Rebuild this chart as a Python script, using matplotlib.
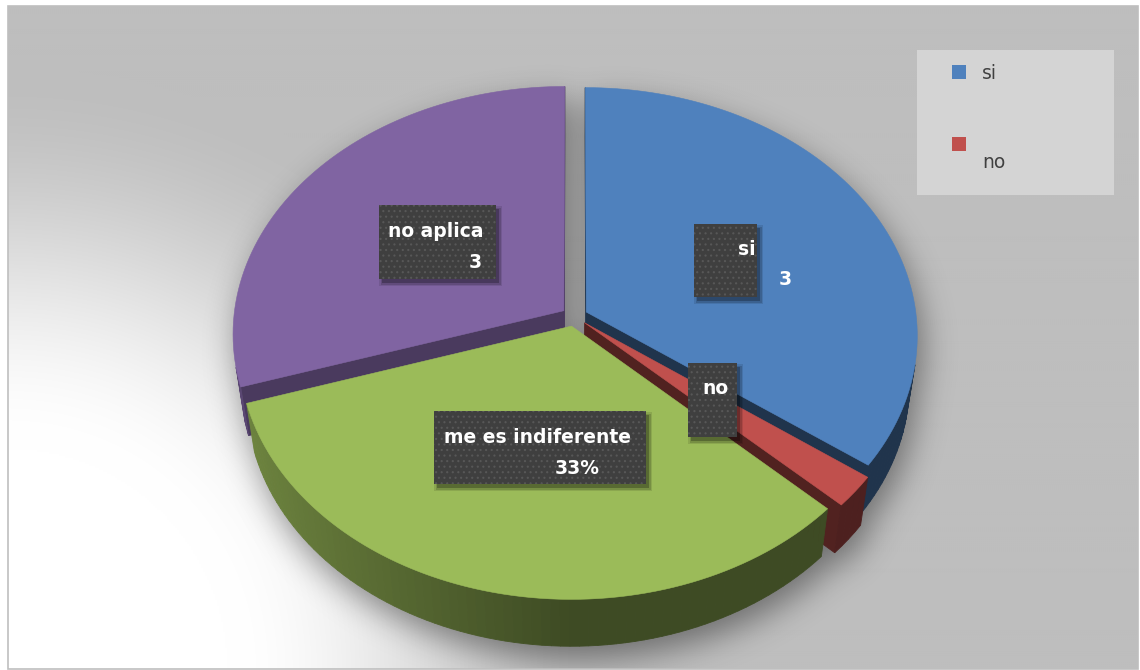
import numpy as np
import matplotlib.pyplot as plt
from matplotlib.patches import Polygon, Rectangle
from matplotlib.path import Path

categories = ["si", "no", "me es indiferente", "no aplica"]
values = [3.4, 0.2, 3.2, 2.9]
label_kind = ["value", "name", "percent", "value"]
legend_items = categories[:2]

colors = ["#4f81bd", "#c0504d", "#9bbb59", "#8064a2"]
cut_shade = [0.40, 0.42, 0.45, 0.58]

W, H = 1140, 670
plot_box = (8, 6, 1138, 669)

# camera for the 3-D pie (pixel space, y down)
elev = np.radians(48.2)
dist = 7.19
focal = 2373.0
thick = 0.228
explode = 0.04
cx, cy = 574.5, 316.5
ce, se = np.cos(elev), np.sin(elev)
cam = np.array([0.0, -dist * ce, dist * se])


def project(x, y, z):
    up = z * ce + y * se
    d = dist + y * ce - z * se
    return cx + focal * x / d, cy - focal * up / d


def to_rgb(hexcol):
    hexcol = hexcol.lstrip("#")
    return np.array([int(hexcol[i:i + 2], 16) for i in (0, 2, 4)]) / 255.0


def hull(points):
    pts = sorted(set(map(tuple, np.round(points, 3))))
    def cross(o, a, b):
        return (a[0] - o[0]) * (b[1] - o[1]) - (a[1] - o[1]) * (b[0] - o[0])
    lower, upper = [], []
    for p in pts:
        while len(lower) >= 2 and cross(lower[-2], lower[-1], p) <= 0:
            lower.pop()
        lower.append(p)
    for p in reversed(pts):
        while len(upper) >= 2 and cross(upper[-2], upper[-1], p) <= 0:
            upper.pop()
        upper.append(p)
    return np.array(lower[:-1] + upper[:-1])


def blur(img, sigma):
    r = int(3 * sigma)
    k = np.exp(-0.5 * (np.arange(-r, r + 1) / sigma) ** 2)
    k /= k.sum()
    img = np.apply_along_axis(lambda v: np.convolve(v, k, mode="same"), 0, img)
    img = np.apply_along_axis(lambda v: np.convolve(v, k, mode="same"), 1, img)
    return img


fig = plt.figure(figsize=(W / 100, H / 100), dpi=100)
fig.patch.set_facecolor("white")
ax = fig.add_axes([0, 0, 1, 1])
ax.set_xlim(0, W)
ax.set_ylim(H, 0)
ax.axis("off")

# background of the plot area: light corner at bottom left
x0, y0, x1, y1 = plot_box
step = 2
gx = np.arange(x0, x1, step) + step / 2
gy = np.arange(y0, y1, step) + step / 2
XX, YY = np.meshgrid(gx, gy)
r = np.hypot(XX - x0, YY - y1)
t = np.clip((r - 220) / 380, 0, 1)
t = t * t * (3 - 2 * t)
shade = (255 - 65 * t) / 255.0
bg = np.dstack([shade, shade, shade])
ax.imshow(bg, extent=(x0, x1, y1, y0), zorder=0, interpolation="bilinear")
ax.add_patch(Rectangle((x0, y0), x1 - x0, y1 - y0, fill=False,
                       edgecolor="#bfbfbf", lw=1.2, zorder=8))

# slices
total = sum(values)
start = 90.0
walls = []
tops = []
hulls = []
for i, v in enumerate(values):
    span = v / total * 360.0
    t1, t2 = start, start - span
    start = t2
    mid = np.radians((t1 + t2) / 2)
    ox, oy = explode * np.cos(mid), explode * np.sin(mid)
    base = to_rgb(colors[i])
    n = max(2, int(span / 1.5) + 1)
    ts = np.radians(np.linspace(t1, t2, n))
    ax3 = np.cos(ts) + ox
    ay3 = np.sin(ts) + oy

    top_x, top_y = project(np.r_[ox, ax3], np.r_[oy, ay3], 0.0)
    bot_x, bot_y = project(np.r_[ox, ax3], np.r_[oy, ay3], -thick)
    tops.append((np.column_stack([top_x, top_y]), base))
    hulls.append(hull(np.vstack([np.column_stack([top_x, top_y]),
                                 np.column_stack([bot_x, bot_y])])))

    # outer wall, one quad per step
    for k in range(n - 1):
        tm = 0.5 * (ts[k] + ts[k + 1])
        normal = np.array([np.cos(tm), np.sin(tm), 0.0])
        c3 = np.array([np.cos(tm) + ox, np.sin(tm) + oy, -thick / 2])
        if normal @ (cam - c3) <= 0:
            continue
        xs = np.array([ax3[k], ax3[k + 1], ax3[k + 1], ax3[k]])
        ys = np.array([ay3[k], ay3[k + 1], ay3[k + 1], ay3[k]])
        zs = np.array([0, 0, -thick, -thick])
        px, py = project(xs, ys, zs)
        f = 0.40 + 0.32 * max(0.0, -np.cos(tm))
        walls.append((np.linalg.norm(cam - c3), np.column_stack([px, py]), base * f))

    # cut faces of the slice
    for te, sign in ((np.radians(t1), 1), (np.radians(t2), -1)):
        normal = sign * np.array([-np.sin(te), np.cos(te), 0.0])
        ex, ey = np.cos(te) + ox, np.sin(te) + oy
        c3 = np.array([(ex + ox) / 2, (ey + oy) / 2, -thick / 2])
        if normal @ (cam - c3) <= 0:
            continue
        xs = np.array([ox, ex, ex, ox])
        ys = np.array([oy, ey, ey, oy])
        zs = np.array([0, 0, -thick, -thick])
        px, py = project(xs, ys, zs)
        walls.append((np.linalg.norm(cam - c3), np.column_stack([px, py]),
                      base * cut_shade[i]))

# soft shadow, cast down and to the right
mask = np.zeros(XX.size)
pts = np.column_stack([XX.ravel() - 5, YY.ravel() - 14])
for hpoly in hulls:
    mask = np.maximum(mask, Path(hpoly).contains_points(pts))
mask = blur(mask.reshape(XX.shape), 8.0)
shadow = np.zeros(XX.shape + (4,))
shadow[..., 3] = 0.42 * mask
ax.imshow(shadow, extent=(x0, x1, y1, y0), zorder=1, interpolation="bilinear")

for _, poly, col in sorted(walls, key=lambda w: -w[0]):
    ax.add_patch(Polygon(poly, closed=True, facecolor=col, edgecolor=col,
                         lw=0.6, zorder=2))
for poly, col in tops:
    ax.add_patch(Polygon(poly, closed=True, facecolor=col, edgecolor=col,
                         lw=0.4, zorder=3))

# data labels
label_layout = [
    ((694, 224, 757, 297), (756, 255, "right"), (779, 285, "left")),
    ((688, 363, 737, 437), (702, 394, "left"), None),
    ((434, 411, 646, 484), (444, 443, "left"), (600, 474, "right")),
    ((379, 205, 496, 279), (388, 237, "left"), (482, 268, "right")),
]
plt.rcParams["hatch.linewidth"] = 0.8
for i, (box, name_at, num_at) in enumerate(label_layout):
    bx0, by0, bx1, by1 = box
    for grow, a in ((3, 0.10), (1.5, 0.15), (0, 0.25)):
        ax.add_patch(Rectangle((bx0 + 3 - grow, by0 + 4 - grow),
                               bx1 - bx0 + 2 * grow, by1 - by0 + 2 * grow,
                               facecolor="black", edgecolor="none", alpha=a, zorder=4))
    ax.add_patch(Rectangle((bx0, by0), bx1 - bx0, by1 - by0,
                           facecolor="#3f3f3f", edgecolor="none", zorder=5))
    ax.add_patch(Rectangle((bx0, by0), bx1 - bx0, by1 - by0, facecolor="none",
                           edgecolor="#575757", lw=0, hatch="...", zorder=5))
    txt = dict(color="white", fontsize=13.5, fontweight="bold",
               va="baseline", zorder=6, family=["DejaVu Sans"])
    ax.text(name_at[0], name_at[1], categories[i], ha=name_at[2], **txt)
    if num_at is not None:
        if label_kind[i] == "percent":
            num = f"{values[i] / total * 100:.0f}%"
        else:
            num = f"{values[i]:.0f}"
        ax.text(num_at[0], num_at[1], num, ha=num_at[2], **txt)

# legend
ax.add_patch(Rectangle((917, 50), 197, 145, facecolor="#d4d4d4",
                       edgecolor="none", zorder=6))
legend_rows = [(65, 79), (137, 168)]
for name, (sq_y, text_y) in zip(legend_items, legend_rows):
    col = colors[categories.index(name)]
    ax.add_patch(Rectangle((952, sq_y), 14, 14, facecolor=col,
                           edgecolor="none", zorder=7))
    ax.text(982, text_y, name, fontsize=13.5, color="#404040",
            va="baseline", ha="left", zorder=7)

fig.savefig("out.png", dpi=100)
